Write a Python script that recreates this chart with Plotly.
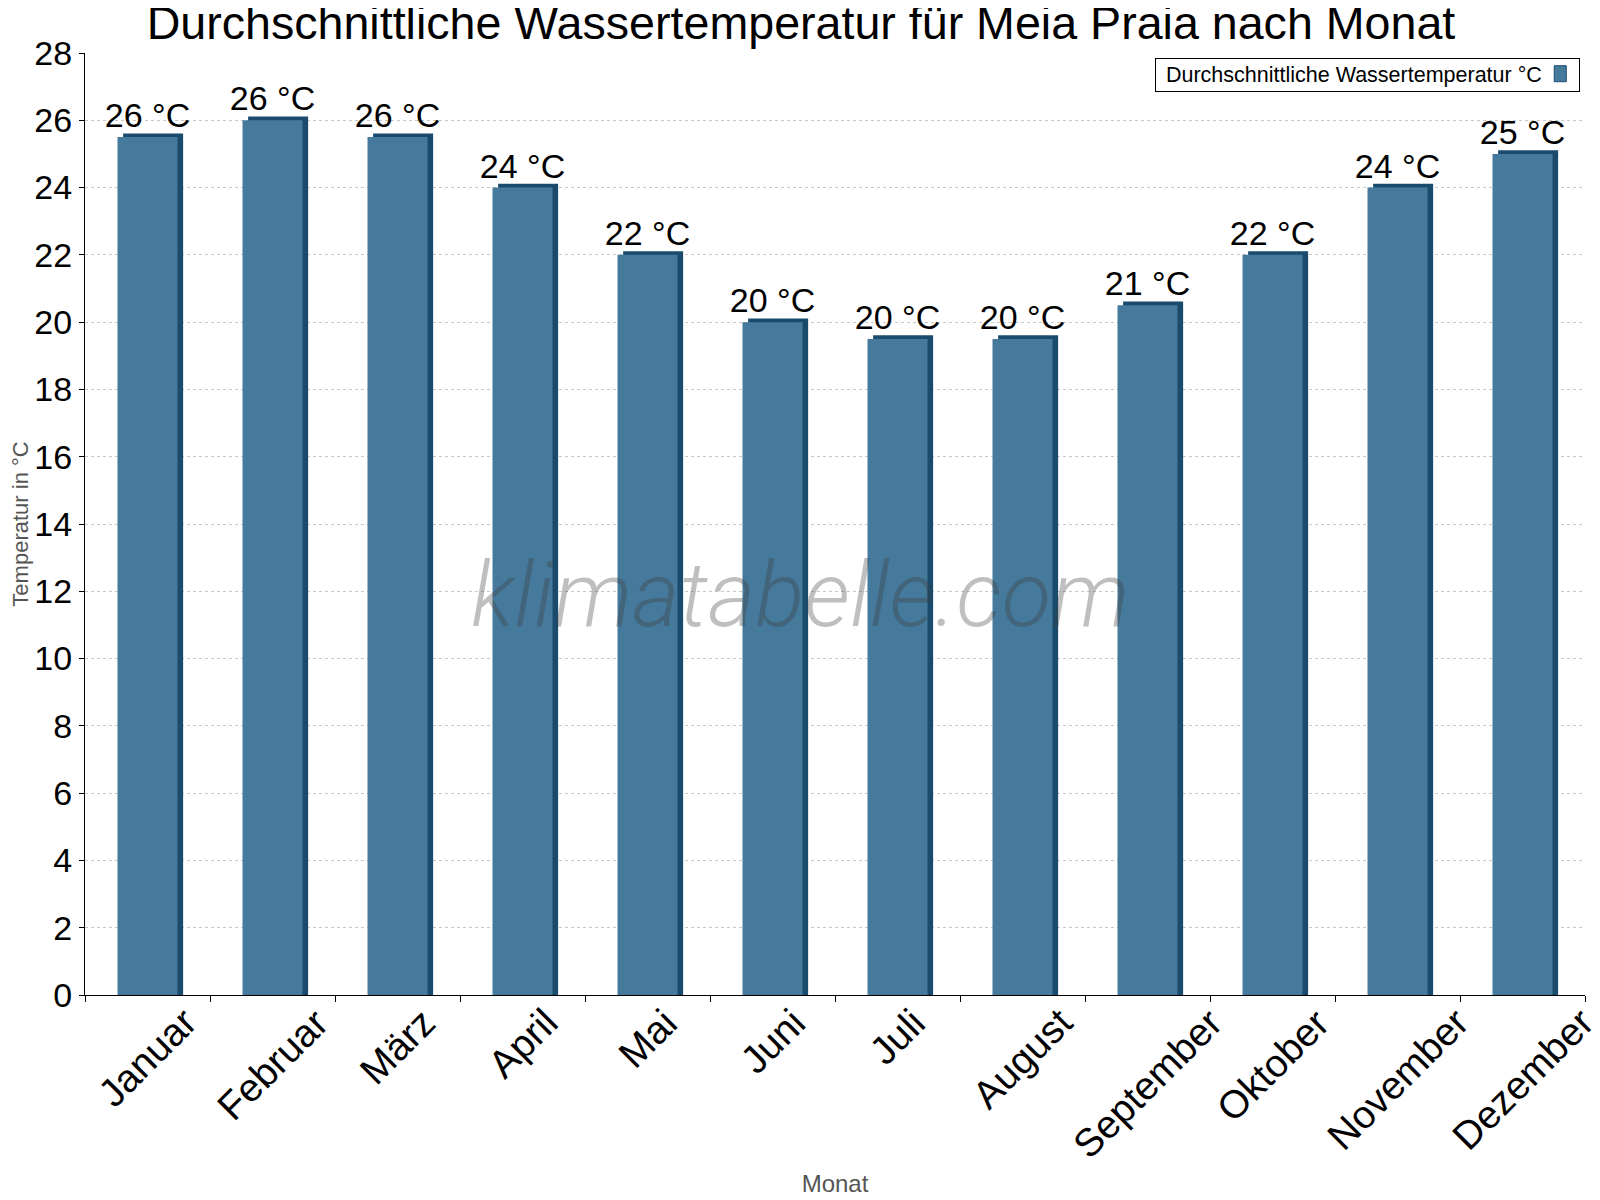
import plotly.graph_objects as go

monate = ["Januar", "Februar", "März", "April", "Mai", "Juni",
          "Juli", "August", "September", "Oktober", "November", "Dezember"]
wassertemp = [25.5, 26.0, 25.5, 24.0, 22.0, 20.0, 19.5, 19.5, 20.5, 22.0, 24.0, 25.0]
y_ticks = list(range(0, 29, 2))

FACE = "#467a9c"
DARK = "#1a4b6d"
FONT = "Liberation Sans"
DEPTH_Y = 0.11   # Höhe der "3D"-Oberkante in Datenwerten
DEPTH_X = 0.045  # seitliche Verschiebung der dunklen Seite

labels = [f"{int(v + 0.5)} °C" for v in wassertemp]

fig = go.Figure()

# dunkler Hintergrundbalken für den 3D-Effekt
fig.add_trace(go.Bar(
    x=monate, y=[v + DEPTH_Y for v in wassertemp],
    width=0.48, offset=-0.24 + DEPTH_X,
    marker=dict(color=DARK, line=dict(width=0)),
    showlegend=False, hoverinfo="skip",
))

# Vorderseite der Balken
fig.add_trace(go.Bar(
    x=monate, y=wassertemp,
    width=0.48, offset=-0.24,
    marker=dict(color=FACE, line=dict(width=0)),
    text=labels, textposition="outside", constraintext="none",
    textfont=dict(family=FONT, size=34, color="black"),
    cliponaxis=False,
    name="Durchschnittliche Wassertemperatur °C",
    showlegend=False,
))

fig.update_layout(
    width=1600, height=1200,
    barmode="overlay",
    plot_bgcolor="white", paper_bgcolor="white",
    margin=dict(l=77, r=23, t=45, b=213),
    font=dict(family=FONT, color="black"),
    title=dict(
        text="Durchschnittliche Wassertemperatur für Meia Praia nach Monat",
        font=dict(family=FONT, size=46.6, color="black"),
        x=0.4956, xanchor="center", xref="container",
        y=0.988, yanchor="middle", yref="container",
    ),
    xaxis=dict(
        automargin=False,
        range=[-0.5, len(monate) - 0.5],
        showline=True, linecolor="black", linewidth=1,
        ticks="outside", tickson="boundaries", ticklen=6, tickcolor="black",
        showticklabels=False,
        showgrid=False,
        title=dict(text="Monat", font=dict(family=FONT, size=24, color="#555555"),
                   standoff=180),
    ),
    yaxis=dict(
        automargin=False,
        range=[0, 28], tickvals=y_ticks,
        showline=True, linecolor="black", linewidth=1,
        ticks="outside", ticklen=5, tickcolor="black",
        tickfont=dict(family=FONT, size=34, color="black"),
        showgrid=True, gridcolor="#c8c8c8", griddash="dot", gridwidth=1,
        zeroline=False,
        title=dict(text="Temperatur in °C", font=dict(family=FONT, size=22, color="#555555"),
                   standoff=0),
    ),
)

# Monatsbeschriftungen, schräg und mittig unter der Kategorie
for m in monate:
    fig.add_annotation(
        text=m, xref="x", yref="paper", x=m, y=-0.003,
        xanchor="center", yanchor="top", textangle=-45, showarrow=False,
        font=dict(family=FONT, size=39, color="black"),
    )

# Wasserzeichen
fig.add_annotation(
    text="klimatabelle.com", xref="paper", yref="paper",
    x=0.477, y=0.425, showarrow=False,
    font=dict(family="Roboto", size=91, weight=300, color="rgba(60,60,60,0.33)",
              style="italic"),
)

# Legende im Stil des Originals (Symbol rechts)
fig.add_annotation(
    text="&nbsp;Durchschnittliche Wassertemperatur °C", xref="paper", yref="paper",
    x=0.9969, y=0.9765, xanchor="right", yanchor="middle",
    width=415, align="left", showarrow=False,
    font=dict(family=FONT, size=21.5, color="black"),
    bordercolor="black", borderwidth=1, borderpad=4,
)
fig.add_shape(
    type="rect", xref="paper", yref="paper",
    x0=0.9795, x1=0.9875, y0=0.9695, y1=0.9865,
    fillcolor=FACE, line=dict(color=DARK, width=1),
)

fig.write_html("out.html")
